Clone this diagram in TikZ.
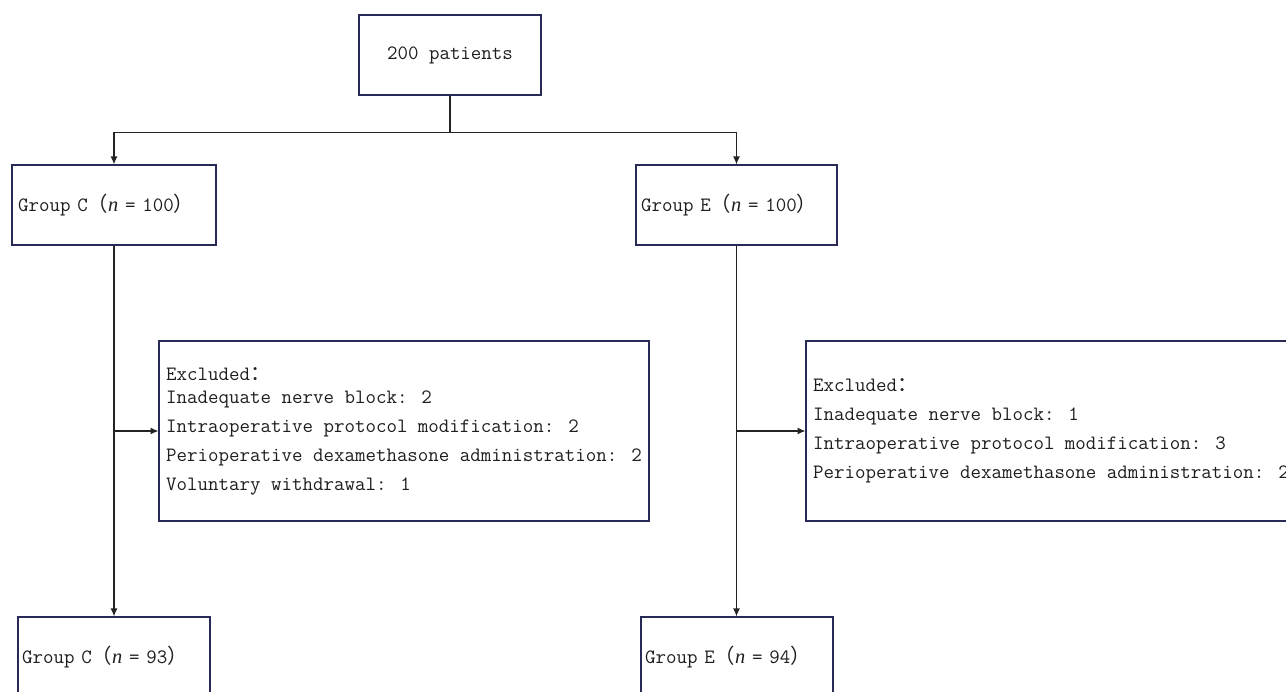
\documentclass[tikz,border=0pt]{standalone}
\usepackage{fontspec}
\newfontfamily\cjk{Noto Sans CJK SC}
\newfontfamily\tms{Liberation Serif}
\usepackage{tikz}
\usetikzlibrary{calc}
\usetikzlibrary{arrows.meta}
\definecolor{boxline}{RGB}{38,42,84}
\definecolor{linkline}{RGB}{35,35,35}
\definecolor{txt}{RGB}{30,30,30}
\newcommand{\fl}{{\cjk （}}
\newcommand{\fr}{{\cjk ）}}
\newcommand{\fcolon}{{\cjk ：}}
\newcommand{\nn}{{\tms\itshape n}}

\begin{document}
\begin{tikzpicture}[>={Latex[length=4.5pt,width=4pt]}, x=0.02cm, y=-0.02cm,
	flowbox/.style={rectangle, draw=boxline, line width=0.7pt, text=txt, inner ysep=0pt, minimum height=1.6cm, align=left, font=\fontsize{11.6pt}{16.5pt}\ttfamily},
	link/.style={draw=linkline, line width=0.7pt}]
			%frame
			\useasboundingbox (0,0) rectangle (1286,692);
			\clip (0,0) rectangle (1286,692);
			%start
			\node at (450,55) (total) [flowbox, minimum width=3.64cm, align=center] {200 patients};
			%allocation
			\node at (114,205) (grpC) [flowbox, inner xsep=0.12cm, text width=3.84cm] {Group C\fl\nn{} = 100\fr};
			\node at (736.5,205) (grpE) [flowbox, inner xsep=0.1cm, text width=3.82cm] {Group E\fl\nn{} = 100\fr};
			%exclusions
			\node at (404,431) (exC) [flowbox, minimum height=3.6cm, minimum width=9.8cm, inner xsep=0pt] {Excluded\fcolon\\[-3.5pt]
				Inadequate nerve block: 2\\
				Intraoperative protocol modification: 2\\
				Perioperative dexamethasone administration: 2\\
				Voluntary withdrawal: 1};
			\node at (1051,431) (exE) [flowbox, minimum height=3.6cm, minimum width=9.8cm, inner xsep=0pt] {Excluded\fcolon\\
				Inadequate nerve block: 1\\
				Intraoperative protocol modification: 3\\
				Perioperative dexamethasone administration: 2};
			%analysed
			\node at (114,657) (finC) [flowbox, inner xsep=0.08cm, text width=3.68cm] {Group C\fl\nn{} = 93\fr};
			\node at (737,657) (finE) [flowbox, inner xsep=0.08cm, text width=3.68cm] {Group E\fl\nn{} = 94\fr};

			%links
			\coordinate (split) at ($(total.south) + (0,37)$);
			\draw [link] (total.south) -- (split);
			\draw [link,->] (split) -| (grpC.north);
			\draw [link,->] (split) -| (grpE.north);
			\draw [link,->] (grpC.south) -- (finC.north);
			\draw [link,->] (grpE.south) -- (grpE.south |- finC.north);
			\draw [link,->] (grpC.south |- exC.west) -- (exC.west);
			\draw [link,->] (grpE.south |- exE.west) -- (exE.west);
		\end{tikzpicture}
\end{document}
